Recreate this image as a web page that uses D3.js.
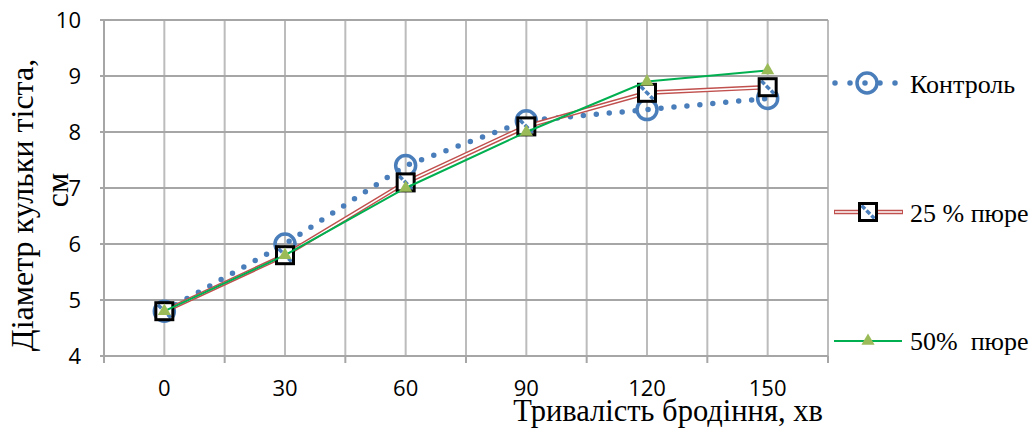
<!DOCTYPE html>
<html>
<head>
<meta charset="utf-8">
<script src="https://cdn.jsdelivr.net/npm/d3@7"></script>
<style>
  body { margin: 0; background: #fff; }
  svg { display: block; }
</style>
</head>
<body>
<div id="chart"></div>
<script>
    // data
    var categories = ["0", "30", "60", "90", "120", "150"];
    var control = [4.8, 6.0, 7.4, 8.2, 8.4, 8.6];
    var puree25 = [4.8, 5.8, 7.1, 8.1, 8.7, 8.8];
    var puree50 = [4.8, 5.8, 7.0, 8.0, 8.9, 9.1];
    var yTicks = [4, 5, 6, 7, 8, 9, 10];

    var W = 1031, H = 428;
    var plotL = 104, plotR = 828, plotT = 20, plotB = 356;

    var svg = d3.select("#chart").append("svg")
        .attr("width", W).attr("height", H);

    var x = d3.scaleBand().domain(categories).range([plotL, plotR]).padding(0);
    var y = d3.scaleLinear().domain([4, 10]).range([plotB, plotT]);
    var cx = function (c) { return x(c) + x.bandwidth() / 2; };

    // vertical grid: band edges + band centres
    var vLines = [];
    categories.forEach(function (c) { vLines.push(x(c)); vLines.push(cx(c)); });
    vLines.push(plotR);
    svg.append("g").selectAll("line").data(vLines).enter().append("line")
        .attr("x1", function (d) { return d; }).attr("x2", function (d) { return d; })
        .attr("y1", plotT).attr("y2", plotB)
        .attr("stroke", "#bcbcbc").attr("stroke-width", 2);

    // horizontal grid
    svg.append("g").selectAll("line").data(yTicks).enter().append("line")
        .attr("x1", plotL - 4).attr("x2", plotR)
        .attr("y1", function (d) { return y(d); }).attr("y2", function (d) { return y(d); })
        .attr("stroke", "#a6a6a6").attr("stroke-width", 2);

    // x axis ticks below
    var edges = categories.map(function (c) { return x(c); }).concat([plotR]);
    svg.append("g").selectAll("line").data(edges).enter().append("line")
        .attr("x1", function (d) { return d; }).attr("x2", function (d) { return d; })
        .attr("y1", plotB).attr("y2", plotB + 7)
        .attr("stroke", "#a6a6a6").attr("stroke-width", 2);
    svg.append("line").attr("x1", plotL).attr("x2", plotL).attr("y1", plotT).attr("y2", plotB + 7)
        .attr("stroke", "#a6a6a6").attr("stroke-width", 2);

    // tick labels
    svg.append("g").selectAll("text").data(yTicks).enter().append("text")
        .attr("x", 81).attr("y", function (d) { return y(d) + 8; })
        .attr("text-anchor", "end")
        .style("font-family", "'Open Sans', sans-serif").style("font-size", "22px")
        .text(function (d) { return d; });
    svg.append("g").selectAll("text").data(categories).enter().append("text")
        .attr("x", cx).attr("y", 396)
        .attr("text-anchor", "middle")
        .style("font-family", "'Open Sans', sans-serif").style("font-size", "22px")
        .text(function (d) { return d; });

    // axis titles
    var serif = "'Liberation Serif', 'Times New Roman', serif";
    svg.append("text").attr("x", 668).attr("y", 421).attr("text-anchor", "middle")
        .style("font-family", serif).style("font-size", "30.5px")
        .text("Тривалість бродіння, хв");
    svg.append("text").attr("transform", "translate(33,205) rotate(-90)")
        .attr("text-anchor", "middle")
        .style("font-family", serif).style("font-size", "32px")
        .text("Діаметр кульки тіста,");
    svg.append("text").attr("transform", "translate(68,190) rotate(-90)")
        .attr("text-anchor", "middle")
        .style("font-family", serif).style("font-size", "32px")
        .text("см");

    var blue = "#4a7ebb", red = "#c0504d", green = "#00b050", olive = "#9bbb59";
    var line = d3.line().x(function (d, i) { return cx(categories[i]); }).y(function (d) { return y(d); });

    // marker helpers
    function circleMark(g, px, py) {
        g.append("circle").attr("cx", px).attr("cy", py).attr("r", 10)
            .attr("fill", "none").attr("stroke", blue).attr("stroke-width", 3.5);
    }
    function squareMark(g, px, py) {
        var s = 17;
        g.append("rect").attr("x", px - s / 2).attr("y", py - s / 2).attr("width", s).attr("height", s)
            .attr("fill", "#fff");
        g.append("line").attr("x1", px - s / 2 + 2).attr("y1", py - s / 2 + 2)
            .attr("x2", px + s / 2 - 2).attr("y2", py + s / 2 - 2)
            .attr("stroke", blue).attr("stroke-width", 3.5).attr("stroke-dasharray", "5,2");
        g.append("rect").attr("x", px - s / 2).attr("y", py - s / 2).attr("width", s).attr("height", s)
            .attr("fill", "none").attr("stroke", "#000").attr("stroke-width", 3);
    }
    function triMark(g, px, py) {
        g.append("path").attr("transform", "translate(" + px + "," + py + ")")
            .attr("d", d3.symbol().type(d3.symbolTriangle).size(75)())
            .attr("fill", olive);
    }

    // Контроль
    var g1 = svg.append("g");
    g1.append("path").attr("d", line(control)).attr("fill", "none")
        .attr("stroke", blue).attr("stroke-width", 5.5).attr("stroke-linecap", "round")
        .attr("stroke-dasharray", "0,13");
    control.forEach(function (v, i) { circleMark(g1, cx(categories[i]), y(v)); });

    // 25 % пюре (double line)
    var g2 = svg.append("g");
    g2.append("path").attr("d", line(puree25)).attr("fill", "none")
        .attr("stroke", red).attr("stroke-width", 4.5);
    g2.append("path").attr("d", line(puree25)).attr("fill", "none")
        .attr("stroke", "#fff").attr("stroke-width", 1.6);
    puree25.forEach(function (v, i) { squareMark(g2, cx(categories[i]), y(v)); });

    // 50% пюре
    var g3 = svg.append("g");
    g3.append("path").attr("d", line(puree50)).attr("fill", "none")
        .attr("stroke", green).attr("stroke-width", 2);
    puree50.forEach(function (v, i) { triMark(g3, cx(categories[i]), y(v)); });

    // legend
    var lg = svg.append("g");
    lg.append("line").attr("x1", 835).attr("x2", 896).attr("y1", 83).attr("y2", 83)
        .attr("stroke", blue).attr("stroke-width", 5.5).attr("stroke-linecap", "round")
        .attr("stroke-dasharray", "0,15");
    circleMark(lg, 867, 83);
    lg.append("line").attr("x1", 834).attr("x2", 903).attr("y1", 212).attr("y2", 212)
        .attr("stroke", red).attr("stroke-width", 4.5);
    lg.append("line").attr("x1", 835).attr("x2", 902).attr("y1", 212).attr("y2", 212)
        .attr("stroke", "#fff").attr("stroke-width", 1.6);
    squareMark(lg, 868, 212);
    lg.append("line").attr("x1", 834).attr("x2", 902).attr("y1", 341).attr("y2", 341)
        .attr("stroke", green).attr("stroke-width", 2);
    triMark(lg, 868, 341);

    var legendText = [["Контроль", 93], ["25 % пюре", 222], ["50%  пюре", 350]];
    lg.selectAll("text.lt").data(legendText).enter().append("text")
        .attr("x", 910).attr("y", function (d) { return d[1]; })
        .attr("xml:space", "preserve").style("white-space", "pre")
        .style("font-family", serif).style("font-size", "26px")
        .text(function (d) { return d[0]; });
</script>
</body>
</html>
